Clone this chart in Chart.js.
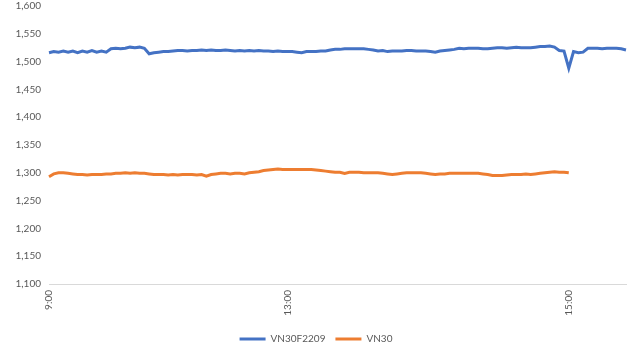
<!DOCTYPE html>
<html>
<head>
<meta charset="utf-8">
<script src="https://cdn.jsdelivr.net/npm/chart.js@4.4.0/dist/chart.umd.min.js"></script>
<style>
  html, body { margin: 0; padding: 0; background: #ffffff; }
  #wrap { width: 632px; height: 360px; position: relative; }
</style>
</head>
<body>
<div id="wrap"><canvas id="c" width="632" height="360"></canvas></div>
<script>
// ---- Data ----
const seriesNames = ['VN30F2209', 'VN30'];
const tickIndex = [0, 50, 109];
const tickLabels = ['9:00', '13:00', '15:00'];
const yTicks = [1100, 1150, 1200, 1250, 1300, 1350, 1400, 1450, 1500, 1550, 1600];

const vn30f2209 = [
  1516, 1518, 1517, 1519, 1517, 1519, 1516, 1519, 1517, 1520,
  1517, 1519, 1517, 1523, 1524, 1523, 1524, 1526, 1525, 1526,
  1524, 1514, 1516, 1517, 1518, 1518, 1519, 1520, 1520, 1519,
  1520, 1520, 1521, 1520, 1521, 1520, 1520, 1521, 1520, 1519,
  1520, 1519, 1520, 1519, 1520, 1519, 1519, 1518, 1519, 1518,
  1518, 1518, 1517, 1516, 1518, 1518, 1518, 1519, 1519, 1521,
  1522, 1522, 1523, 1523, 1523, 1523, 1523, 1522, 1521, 1519,
  1520, 1518, 1519, 1519, 1519, 1520, 1520, 1519, 1519, 1519,
  1518, 1517, 1519, 1520, 1521, 1522, 1524, 1523, 1524, 1524,
  1524, 1523, 1523, 1524, 1525, 1525, 1524, 1525, 1526, 1525,
  1525, 1525, 1526, 1527, 1527, 1528, 1526, 1520, 1519, 1488,
  1518, 1516, 1517, 1524, 1524, 1524, 1523, 1524, 1524, 1524,
  1523, 1521
];

const vn30 = [
  1293, 1298, 1300, 1300, 1299, 1298, 1297, 1297, 1296, 1297,
  1297, 1297, 1298, 1298, 1299, 1299, 1300, 1299, 1300, 1299,
  1299, 1298, 1297, 1297, 1297, 1296, 1297, 1296, 1297, 1297,
  1297, 1296, 1297, 1294, 1297, 1298, 1299, 1299, 1298, 1299,
  1299, 1298, 1300, 1301, 1302, 1304, 1305, 1306, 1307, 1306,
  1306, 1306, 1306, 1306, 1306, 1306, 1305, 1304, 1303, 1302,
  1301, 1301, 1299, 1301, 1301, 1301, 1300, 1300, 1300, 1300,
  1299, 1298, 1297, 1298, 1299, 1300, 1300, 1300, 1300, 1299,
  1298, 1297, 1298, 1298, 1299, 1299, 1299, 1299, 1299, 1299,
  1299, 1298, 1297, 1295, 1295, 1295, 1296, 1297, 1297, 1297,
  1298, 1297, 1298, 1299, 1300, 1301, 1302, 1301, 1301, 1300,
  null, null, null, null, null, null, null, null, null, null,
  null, null
];

// category labels built from the tick arrays
const categories = vn30f2209.map((_, i) => {
  const k = tickIndex.indexOf(i);
  return k >= 0 ? tickLabels[k] : '';
});

const FONT = "Lato, 'Liberation Sans', sans-serif";
const TEXT = '#595959';

new Chart(document.getElementById('c'), {
  type: 'line',
  data: {
    labels: categories,
    datasets: [
      { label: seriesNames[0], data: vn30f2209, borderColor: '#4472C4', backgroundColor: '#4472C4',
        borderWidth: 3, pointRadius: 0, pointHoverRadius: 0, tension: 0, spanGaps: false },
      { label: seriesNames[1], data: vn30, borderColor: '#ED7D31', backgroundColor: '#ED7D31',
        borderWidth: 3, pointRadius: 0, pointHoverRadius: 0, tension: 0, spanGaps: false }
    ]
  },
  options: {
    responsive: false,
    animation: false,
    devicePixelRatio: 1,
    layout: { padding: { top: 0, right: 0, bottom: 6, left: 0 } },
    plugins: {
      tooltip: { enabled: false },
      legend: {
        position: 'bottom',
        labels: {
          usePointStyle: true,
          pointStyle: 'line',
          pointStyleWidth: 26,
          font: { family: FONT, size: 10 },
          color: TEXT,
          padding: 10
        }
      }
    },
    scales: {
      x: {
        type: 'category',
        offset: false,
        grid: { display: false, drawTicks: false },
        border: { display: true, color: '#d9d9d9', width: 1 },
        ticks: {
          autoSkip: false,
          maxRotation: 90,
          minRotation: 90,
          padding: 6,
          font: { family: FONT, size: 10 },
          color: TEXT
        },
        afterFit: s => { s.height = 40; s.paddingRight = 6; s.paddingLeft = 0; }
      },
      y: {
        min: 1100,
        max: 1600,
        afterBuildTicks: s => { s.ticks = yTicks.map(v => ({ value: v })); },
        grid: { display: false, drawTicks: false },
        border: { display: false },
        ticks: {
          padding: 8,
          font: { family: FONT, size: 10 },
          color: TEXT,
          callback: v => Number(v).toLocaleString('en-US')
        },
        afterFit: s => { s.width = 49; s.paddingTop = 6; s.paddingBottom = 0; }
      }
    }
  }
});
</script>
</body>
</html>
